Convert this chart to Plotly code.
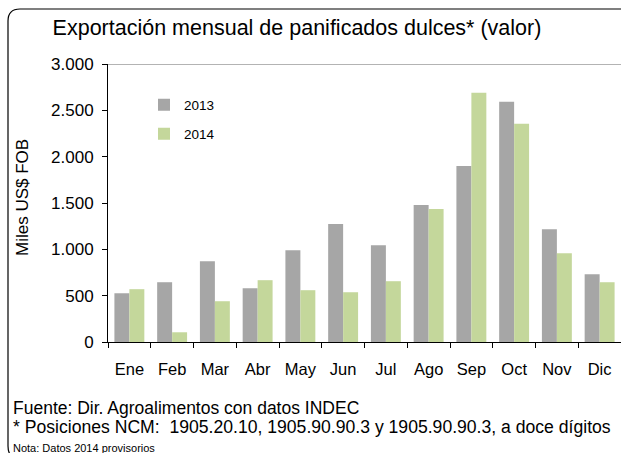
import plotly.graph_objects as go

months = ["Ene", "Feb", "Mar", "Abr", "May", "Jun", "Jul", "Ago", "Sep", "Oct", "Nov", "Dic"]
values_2013 = [526, 645, 872, 580, 991, 1273, 1045, 1478, 1900, 2592, 1218, 732]
values_2014 = [570, 105, 440, 667, 559, 537, 656, 1435, 2689, 2354, 959, 645]
y_ticks = [0, 500, 1000, 1500, 2000, 2500, 3000]

W, H = 621, 453
ML, MR, MT, MB = 108, 0, 64, 111
PW = W - ML - MR
PH = H - MT - MB

def px(x):
    return (x - ML) / PW

def py(y):
    return (H - MB - y) / PH

FONT = "Liberation Sans, Arial, sans-serif"

fig = go.Figure()
fig.add_trace(go.Bar(x=months, y=values_2013, name="2013", marker_color="#A6A6A6",
                     marker_line_width=0, legend="legend"))
fig.add_trace(go.Bar(x=months, y=values_2014, name="2014", marker_color="#C4D79B",
                     marker_line_width=0, legend="legend2"))

fig.update_layout(
    width=W, height=H,
    margin=dict(l=ML, r=MR, t=MT, b=MB),
    paper_bgcolor="white", plot_bgcolor="white",
    separators=",.",
    bargap=0.3, bargroupgap=0,
    font=dict(family=FONT, color="black"),
    title=dict(text="Exportación mensual de panificados dulces* (valor)",
               x=297 / W, xanchor="center", y=1 - 27 / H, yanchor="middle",
               font=dict(size=21.5, color="black", family=FONT)),
    legend=dict(x=px(144), y=py(105), xanchor="left", yanchor="middle",
                bgcolor="rgba(0,0,0,0)", font=dict(size=13.5)),
    legend2=dict(x=px(144), y=py(134), xanchor="left", yanchor="middle",
                 bgcolor="rgba(0,0,0,0)", font=dict(size=13.5)),
    showlegend=True,
)

fig.update_yaxes(range=[0, 3000], tickvals=y_ticks, tickformat=",d",
                 showgrid=False, zeroline=False, showline=True, linecolor="black",
                 linewidth=1, ticks="outside", ticklen=5, tickcolor="black",
                 ticklabelstandoff=5,
                 tickfont=dict(size=17, color="black"))
fig.update_xaxes(showgrid=False, showline=True, linecolor="black", linewidth=1,
                 ticks="outside", tickson="boundaries", ticklen=5, tickcolor="black",
                 ticklabelstandoff=12,
                 tickfont=dict(size=16.5, color="black"))

# top line at 3000
fig.add_shape(type="line", xref="paper", yref="y", x0=0, x1=1.02, y0=3000, y1=3000,
              line=dict(color="#9A9A9A", width=1.5))

# rounded frame
path = (f"M {px(18)},{py(458)} Q {px(8)},{py(458)} {px(8)},{py(446)} "
        f"L {px(8)},{py(21)} Q {px(8)},{py(9)} {px(20)},{py(9)} L {px(640)},{py(9)}")
fig.add_shape(type="path", xref="paper", yref="paper", path=path,
              line=dict(color="black", width=1.2))

fig.add_annotation(text="Miles US$ FOB", textangle=-90, xref="paper", yref="paper",
                   x=px(22), y=py(198), xanchor="center", yanchor="middle",
                   showarrow=False, font=dict(size=17, color="black"))

footer = [
    ("Fuente: Dir. Agroalimentos con datos INDEC", 408, 17.5),
    ("* Posiciones NCM: \u00a01905.20.10, 1905.90.90.3 y 1905.90.90.3, a doce dígitos", 427, 17.6),
    ("Nota: Datos 2014 provisorios", 448, 11),
]
for txt, yy, sz in footer:
    fig.add_annotation(text=txt, xref="paper", yref="paper", x=px(11), y=py(yy),
                       xanchor="left", yanchor="middle", showarrow=False,
                       font=dict(size=sz, color="black"))

fig.write_html(
    "out.html",
    config={"displayModeBar": False},
    post_script="document.body.style.margin='0px';document.body.style.overflow='hidden';",
)
